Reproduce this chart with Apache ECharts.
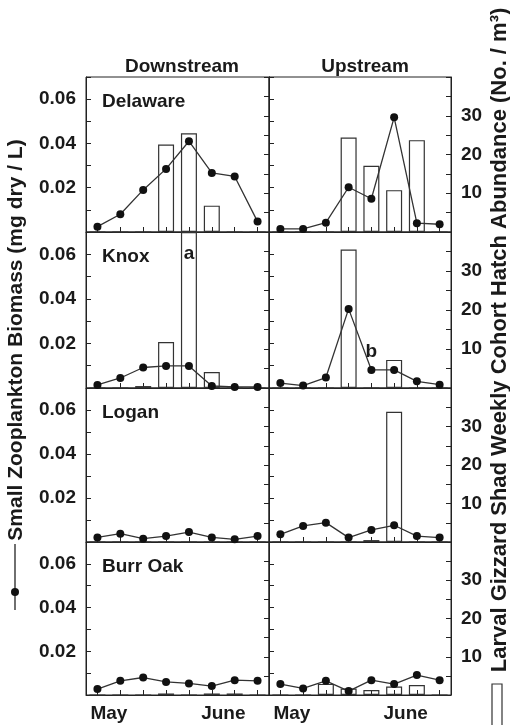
<!DOCTYPE html>
<html>
<head>
<meta charset="utf-8">
<script src="https://cdn.jsdelivr.net/npm/echarts/dist/echarts.min.js"></script>
<style>
  html, body { margin: 0; padding: 0; background: #fff; }
  #chart { width: 510px; height: 725px; }
</style>
</head>
<body>
<div id="chart"></div>
<script>
// weekly sampling dates, May - June
const weeks = ['W1', 'W2', 'W3', 'W4', 'W5', 'W6', 'W7', 'W8'];
const lakes = ['Delaware', 'Knox', 'Logan', 'Burr Oak'];
const sites = ['Downstream', 'Upstream'];
const monthLabels = ['May', 'June'];
const monthAt = [0, 5];
const biomassTicks = [0.02, 0.04, 0.06];
const hatchTicks = [10, 20, 30];

// small zooplankton biomass (mg dry / L)
const delawareDownBiomass = [0.0024, 0.008, 0.019, 0.0285, 0.041, 0.0267, 0.0251, 0.0047];
const delawareUpBiomass = [0.0014, 0.0014, 0.0042, 0.0202, 0.015, 0.0518, 0.004, 0.0035];
const knoxDownBiomass = [0.0014, 0.0045, 0.0092, 0.0099, 0.0099, 0.0009, 0.0005, 0.0005];
const knoxUpBiomass = [0.0022, 0.0011, 0.0047, 0.0355, 0.0081, 0.0081, 0.003, 0.0015];
const loganDownBiomass = [0.0021, 0.0038, 0.0015, 0.0027, 0.0045, 0.0021, 0.0012, 0.0027];
const loganUpBiomass = [0.0035, 0.0073, 0.0088, 0.002, 0.0055, 0.0076, 0.0027, 0.002];
const burrOakDownBiomass = [0.0027, 0.0065, 0.008, 0.006, 0.0053, 0.0041, 0.0068, 0.0065];
const burrOakUpBiomass = [0.005, 0.003, 0.0065, 0.0018, 0.0068, 0.005, 0.0091, 0.0068];

// larval gizzard shad weekly cohort hatch abundance (No. / m3)
const delawareDownHatch = [0, 0, 0, 22.6, 25.5, 6.8, 0, 0];
const delawareUpHatch = [0, 0, 0, 24.4, 17.1, 10.8, 23.7, 0];
const knoxDownHatch = [0, 0, 0.5, 11.8, 40, 4.1, 0, 0]; // week 5 off scale (a)
const knoxUpHatch = [0, 0, 0, 35.5, 0, 7.2, 0, 0];
const loganDownHatch = [0, 0, 0, 0, 0, 0, 0, 0];
const loganUpHatch = [0, 0, 0, 0, 0.5, 33.8, 0, 0];
const burrOakDownHatch = [0, 0, 0, 0.4, 0, 0.4, 0.4, 0];
const burrOakUpHatch = [0, 0, 2.9, 1.7, 1.3, 2.2, 2.6, 0];

const biomass = [
  [delawareDownBiomass, delawareUpBiomass],
  [knoxDownBiomass, knoxUpBiomass],
  [loganDownBiomass, loganUpBiomass],
  [burrOakDownBiomass, burrOakUpBiomass]
];
const hatch = [
  [delawareDownHatch, delawareUpHatch],
  [knoxDownHatch, knoxUpHatch],
  [loganDownHatch, loganUpHatch],
  [burrOakDownHatch, burrOakUpHatch]
];

// layout
const colLeft = [86, 269];
const colWidth = [183, 182];
const rowTop = [77, 232, 388, 542];
const rowHeight = [155, 156, 154, 153];

const ink = '#1a1a1a';
const font = 'Liberation Sans, Arial, sans-serif';
const lineStyle = { color: '#222', width: 1 };

const chart = echarts.init(document.getElementById('chart'));

const grid = [], xAxis = [], yAxis = [], series = [];

for (let r = 0; r < 4; r++) {
  for (let c = 0; c < 2; c++) {
    const g = r * 2 + c;
    grid.push({
      left: colLeft[c], width: colWidth[c], top: rowTop[r], height: rowHeight[r],
      show: true, borderColor: '#222', borderWidth: 1
    });
    xAxis.push({
      gridIndex: g,
      type: 'category',
      data: weeks,
      boundaryGap: true,
      axisLine: { show: true, lineStyle },
      axisTick: { show: true, inside: true, length: 5, alignWithLabel: true, interval: 0, lineStyle },
      axisLabel: r === 3 ? {
        show: true, interval: 0, margin: 9, align: 'center', padding: [0, 0, 0, 23],
        color: ink, fontFamily: font, fontWeight: 'bold', fontSize: 19,
        formatter: (v, i) => {
          const k = monthAt.indexOf(i);
          return k >= 0 ? monthLabels[k] : '';
        }
      } : { show: false },
      splitLine: { show: false }
    });
    // biomass axis (left)
    yAxis.push({
      gridIndex: g,
      type: 'value',
      position: 'left',
      min: 0, max: 0.07, interval: 0.01,
      axisLine: { show: true, lineStyle },
      axisTick: { show: true, inside: true, length: 5, lineStyle },
      axisLabel: {
        show: c === 0, margin: 10,
        color: ink, fontFamily: font, fontWeight: 'bold', fontSize: 19,
        formatter: v => {
          const t = biomassTicks.find(b => Math.abs(b - v) < 1e-6);
          return t !== undefined ? t.toFixed(2) : '';
        }
      },
      splitLine: { show: false }
    });
    // hatch abundance axis (right)
    yAxis.push({
      gridIndex: g,
      type: 'value',
      position: 'right',
      min: 0, max: 40, interval: 5,
      axisLine: { show: true, lineStyle },
      axisTick: { show: true, inside: true, length: 5, lineStyle },
      axisLabel: {
        show: c === 1, margin: 10,
        color: ink, fontFamily: font, fontWeight: 'bold', fontSize: 19,
        formatter: v => hatchTicks.indexOf(v) >= 0 ? String(v) : ''
      },
      splitLine: { show: false }
    });

    const barData = hatch[r][c].map((v, i) => {
      if (r === 1 && c === 0 && i === 4) {
        return {
          value: v,
          label: {
            show: true, position: 'insideTop', distance: 12, formatter: 'a',
            color: ink, fontFamily: font, fontWeight: 'bold', fontSize: 19
          }
        };
      }
      return v;
    });
    const lineData = biomass[r][c].map((v, i) => {
      if (r === 1 && c === 1 && i === 4) {
        return {
          value: v,
          label: {
            show: true, position: 'top', distance: 5, formatter: 'b',
            color: ink, fontFamily: font, fontWeight: 'bold', fontSize: 19
          }
        };
      }
      return v;
    });

    series.push({
      type: 'bar',
      xAxisIndex: g,
      yAxisIndex: g * 2 + 1,
      data: barData,
      barWidth: 16,
      itemStyle: { color: 'rgba(255,255,255,0)', borderColor: '#333', borderWidth: 1.2 },
      z: 2,
      silent: true
    });
    series.push({
      type: 'line',
      xAxisIndex: g,
      yAxisIndex: g * 2,
      data: lineData,
      symbol: 'circle',
      symbolSize: 8,
      lineStyle: { color: '#333', width: 1.3 },
      itemStyle: { color: '#111' },
      z: 3,
      silent: true
    });
  }
}

const textStyle = (text, size) => ({
  text,
  fill: ink,
  font: 'bold ' + size + 'px ' + font,
  align: 'center', verticalAlign: 'middle',
  textAlign: 'center', textVerticalAlign: 'middle'
});

const graphic = [];
// column headers
graphic.push({ type: 'text', x: 182, y: 67, style: textStyle(sites[0], 19) });
graphic.push({ type: 'text', x: 365, y: 67, style: textStyle(sites[1], 19) });
// lake names
lakes.forEach((name, r) => {
  graphic.push({
    type: 'text', x: colLeft[0] + 16, y: rowTop[r] + 25,
    style: Object.assign(textStyle(name, 19), { align: 'left', textAlign: 'left' })
  });
});
// axis titles (rotated)
graphic.push({
  type: 'text', x: 16, y: 340, rotation: Math.PI / 2,
  style: textStyle('Small Zooplankton Biomass (mg dry / L)', 21)
});
graphic.push({
  type: 'text', x: 500, y: 340, rotation: Math.PI / 2,
  style: textStyle('Larval Gizzard Shad Weekly Cohort Hatch Abundance (No. / m³)', 22)
});
// keys for the two titles
graphic.push({ type: 'line', shape: { x1: 15, y1: 544, x2: 15, y2: 610 }, style: { stroke: '#222', lineWidth: 1.3 } });
graphic.push({ type: 'circle', shape: { cx: 15, cy: 592, r: 4 }, style: { fill: '#111' } });
graphic.push({ type: 'rect', shape: { x: 492, y: 684, width: 10, height: 50 }, style: { fill: 'none', stroke: '#333', lineWidth: 1.2 } });

chart.setOption({
  backgroundColor: '#fff',
  animation: false,
  grid,
  xAxis,
  yAxis,
  series,
  graphic
});
</script>
</body>
</html>
